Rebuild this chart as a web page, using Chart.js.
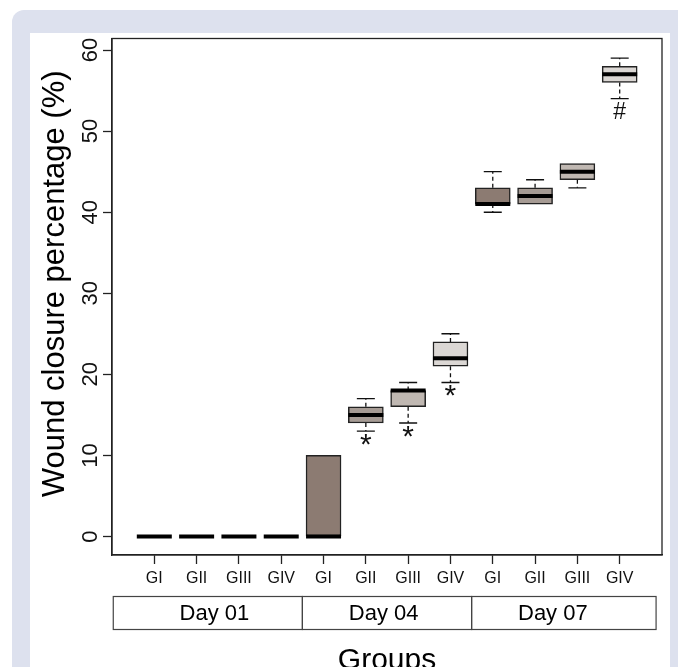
<!DOCTYPE html>
<html>
<head>
<meta charset="utf-8">
<script src="https://cdn.jsdelivr.net/npm/chart.js@4.4.0/dist/chart.umd.min.js"></script>
<style>
  html, body { margin: 0; padding: 0; background: #fff; overflow: hidden; }
  body { width: 678px; height: 667px; position: relative; }
  .frame { position: absolute; left: 12px; top: 10px; width: 700px; height: 720px; background: #dde1ee; border-top-left-radius: 12px; }
  .panel { position: absolute; left: 30px; top: 33px; width: 640px; height: 720px; background: #fff; }
  .wrap { position: absolute; left: 0; top: 0; width: 678px; height: 700px; }
</style>
</head>
<body>
<div class="frame"></div>
<div class="panel"></div>
<div class="wrap"><canvas id="woundChart" width="678" height="700"></canvas></div>
<script>
const tickLabels = ["GI", "GII", "GIII", "GIV", "GI", "GII", "GIII", "GIV", "GI", "GII", "GIII", "GIV"];
const dayLabels = ["Day 01", "Day 04", "Day 07"];
const yTicks = [0, 10, 20, 30, 40, 50, 60];

// five-number summaries per box
const boxMin = [0, 0, 0, 0, 0, 13, 14, 19, 40, 41, 43, 54];
const boxQ1 = [0, 0, 0, 0, 0, 14, 16, 21, 41, 41, 44, 56];
const boxMed = [0, 0, 0, 0, 0, 15, 18, 22, 41, 42, 45, 57];
const boxQ3 = [0, 0, 0, 0, 10, 16, 18, 24, 43, 43, 46, 58];
const boxMax = [0, 0, 0, 0, 10, 17, 19, 25, 45, 44, 46, 59];

// significance marks under some boxes
const markX = [6, 7, 8, 12];
const markY = [12, 12.9, 18, 52.5];
const markText = ["*", "*", "*", "#"];

const groupColors = ["#8c7b72", "#a69b94", "#c0b8b2", "#dbd7d4"];
const FONT = "'Liberation Sans', Arial, sans-serif";

Chart.defaults.font.family = FONT;
Chart.defaults.color = "#000";

const positions = tickLabels.map((_, i) => i + 1);

const boxData = positions.map((x, i) => ({ x, y: [boxQ1[i], boxQ3[i]] }));
const medianData = positions.map((x, i) => ({ x, y: boxMed[i] }));

const whiskerData = [];
const capData = [];
positions.forEach((x, i) => {
  if (boxMax[i] > boxQ3[i]) {
    whiskerData.push({ x, y: boxQ3[i] }, { x, y: boxMax[i] }, { x, y: null });
    capData.push({ x, y: boxMax[i] });
  }
  if (boxMin[i] < boxQ1[i]) {
    whiskerData.push({ x, y: boxQ1[i] }, { x, y: boxMin[i] }, { x, y: null });
    capData.push({ x, y: boxMin[i] });
  }
});

const plotFrame = {
  id: "plotFrame",
  afterDraw(chart) {
    const { ctx, chartArea: a } = chart;
    ctx.save();
    ctx.strokeStyle = "#222";
    ctx.lineWidth = 1.3;
    ctx.strokeRect(a.left, a.top, a.right - a.left, a.bottom - a.top);
    ctx.restore();
  }
};

const marks = {
  id: "marks",
  afterDatasetsDraw(chart) {
    const { ctx, scales: { x, y } } = chart;
    ctx.save();
    ctx.fillStyle = "#111";
    ctx.textAlign = "center";
    ctx.textBaseline = "alphabetic";
    markText.forEach((t, i) => {
      ctx.font = (t === "*" ? "30px " : "23px ") + FONT;
      const m = ctx.measureText(t);
      const shift = (m.actualBoundingBoxAscent - m.actualBoundingBoxDescent) / 2;
      ctx.fillText(t, x.getPixelForValue(markX[i]), y.getPixelForValue(markY[i]) + shift);
    });
    ctx.restore();
  }
};

const dayTable = {
  id: "dayTable",
  afterDraw(chart) {
    const { ctx, scales: { x }, chartArea } = chart;
    const edges = [0.03, 4.5, 8.5, 12.86];
    const top = chartArea.bottom + 41.5;
    const h = 33;
    ctx.save();
    ctx.strokeStyle = "#444";
    ctx.lineWidth = 1.2;
    ctx.fillStyle = "#000";
    ctx.font = "22px " + FONT;
    ctx.textAlign = "center";
    ctx.textBaseline = "middle";
    dayLabels.forEach((label, i) => {
      const x0 = x.getPixelForValue(edges[i]);
      const x1 = x.getPixelForValue(edges[i + 1]);
      ctx.strokeRect(x0, top, x1 - x0, h);
      ctx.fillText(label, x.getPixelForValue(i * 4 + 2.42), top + h / 2 + 1);
    });
    ctx.restore();
  }
};

new Chart(document.getElementById("woundChart"), {
  type: "bar",
  data: {
    datasets: [
      {
        type: "line",
        data: medianData,
        showLine: false,
        pointStyle: "line",
        pointRadius: 17.5,
        pointHoverRadius: 17.5,
        pointBorderWidth: 4,
        pointBorderColor: "#000",
        order: 0
      },
      {
        type: "line",
        data: capData,
        showLine: false,
        pointStyle: "line",
        pointRadius: 9,
        pointHoverRadius: 9,
        pointBorderWidth: 1.4,
        pointBorderColor: "#111",
        order: 1
      },
      {
        type: "line",
        data: whiskerData,
        spanGaps: false,
        borderColor: "#111",
        borderWidth: 1.3,
        borderDash: [4, 3],
        pointRadius: 0,
        order: 2
      },
      {
        type: "bar",
        data: boxData,
        backgroundColor: positions.map((_, i) => groupColors[i % 4]),
        borderColor: "#222",
        borderWidth: 1.5,
        borderSkipped: false,
        barThickness: 35,
        order: 3
      }
    ]
  },
  options: {
    responsive: false,
    animation: false,
    events: [],
    layout: { autoPadding: false, padding: { left: 0, top: 38.5, right: 16, bottom: 0 } },
    plugins: {
      legend: { display: false },
      tooltip: { enabled: false }
    },
    scales: {
      x: {
        type: "linear",
        min: 0,
        max: 13,
        offset: false,
        afterBuildTicks(scale) {
          scale.ticks = positions.map((v) => ({ value: v }));
        },
        afterFit(scale) {
          scale.height = 145;
          scale.paddingLeft = 0;
          scale.paddingRight = 0;
        },
        ticks: {
          autoSkip: false,
          minRotation: 0,
          maxRotation: 0,
          padding: 5,
          color: "#111",
          font: { size: 16 },
          callback(value, index) {
            return tickLabels[index];
          }
        },
        grid: {
          display: true,
          offset: false,
          drawOnChartArea: false,
          drawTicks: true,
          tickLength: 9,
          tickColor: "#222",
          tickWidth: 1.3
        },
        border: { display: true, color: "#222", width: 1.3 },
        title: {
          display: true,
          text: "Groups",
          color: "#000",
          font: { size: 30 },
          padding: { top: 0, bottom: 21 }
        }
      },
      y: {
        min: -2.28,
        max: 61.42,
        afterBuildTicks(scale) {
          scale.ticks = yTicks.map((v) => ({ value: v }));
        },
        afterFit(scale) {
          scale.width = 112;
          scale.paddingTop = 0;
          scale.paddingBottom = 0;
        },
        ticks: {
          minRotation: 90,
          maxRotation: 90,
          crossAlign: "center",
          padding: 0,
          color: "#111",
          font: { size: 22 }
        },
        grid: {
          display: true,
          drawOnChartArea: false,
          drawTicks: true,
          tickLength: 9,
          tickColor: "#222",
          tickWidth: 1.3
        },
        border: { display: true, color: "#222", width: 1.3 },
        title: {
          display: true,
          text: "\u00a0\u00a0\u00a0Wound closure percentage (%)",
          color: "#000",
          font: { size: 31 },
          padding: { top: 37, bottom: 0 }
        }
      }
    }
  },
  plugins: [plotFrame, marks, dayTable]
});
</script>
</body>
</html>
